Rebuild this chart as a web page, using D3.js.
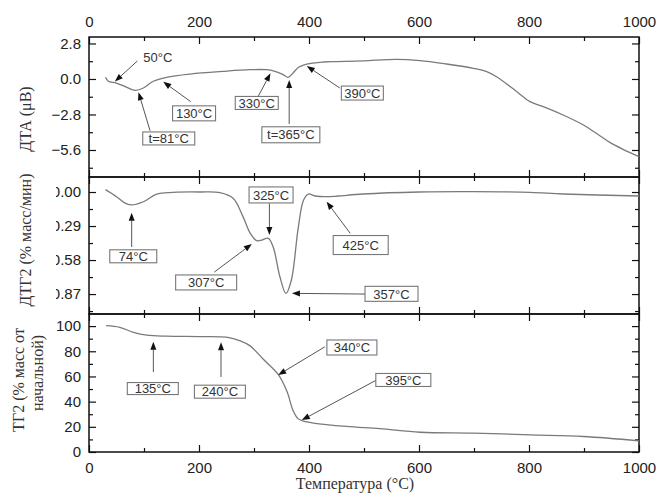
<!DOCTYPE html>
<html>
<head>
<meta charset="utf-8">
<script src="https://cdn.jsdelivr.net/npm/d3@7"></script>
<style>
  body { margin: 0; background: #fff; }
  .tick text { font-family: "Liberation Sans", Arial, sans-serif; font-size: 15px; fill: #222; }
  .tick line { stroke: #111; stroke-width: 1.2; }
  .note text { font-family: "Liberation Sans", Arial, sans-serif; font-size: 13px; fill: #333; }
  .ytitle, .xtitle { font-family: "Liberation Serif", "Times New Roman", serif; font-size: 16px; fill: #333; }
</style>
</head>
<body>
<div id="chart"></div>
<script>
// Data
var dtaTemp = [30, 35, 50, 68, 84, 99, 117, 141, 184, 244, 293, 323, 338, 353, 362, 371, 381, 396, 426, 450, 498, 559, 602, 650, 699, 723, 741, 778, 802, 826, 862, 899, 923, 947, 971, 1000];
var dtaVal  = [0.13, -0.18, -0.32, -0.65, -0.9, -0.71, -0.18, 0.13, 0.39, 0.6, 0.73, 0.73, 0.6, 0.34, 0.13, 0.47, 0.92, 1.18, 1.34, 1.37, 1.42, 1.55, 1.45, 1.18, 0.84, 0.58, 0.18, -1.0, -1.79, -2.18, -2.84, -3.63, -4.3, -5.0, -5.55, -6.13];

var dtgTemp = [30, 50, 64, 77, 99, 123, 153, 202, 238, 262, 280, 293, 305, 314, 326, 335, 347, 358, 368, 380, 390, 399, 411, 432, 453, 498, 600, 699, 802, 862, 1000];
var dtgVal  = [-0.02, 0.04, 0.09, 0.11, 0.083, 0.017, 0.003, 0.0, 0.006, 0.054, 0.21, 0.35, 0.415, 0.41, 0.395, 0.47, 0.72, 0.865, 0.75, 0.32, 0.07, 0.017, 0.034, 0.04, 0.034, 0.017, 0.0, -0.003, 0.003, 0.017, 0.034];

var tgTemp = [31, 56, 81, 105, 141, 200, 250, 275, 293, 317, 344, 360, 371, 380, 390, 408, 468, 529, 602, 699, 802, 899, 1000];
var tgVal  = [100.3, 99, 95, 92.8, 92, 91.7, 91.2, 88.3, 84.3, 73.6, 61.6, 48, 33, 26.5, 24.5, 23, 20.3, 18.5, 15.7, 15, 13.6, 12.3, 8.8];

var xTickLabels = [0, 200, 400, 600, 800, 1000];
var dtaTickLabels = [-5.6, -2.8, 0, 2.8];
var dtgTickLabels = [0, 0.29, 0.58, 0.87];
var tgTickLabels = [0, 20, 40, 60, 80, 100];

// annotations: label, arrow tail and arrow tip in data units [temp, value]
var dtaNotes = [
  { text: "50°C",    label: [125, 1.73],  tail: [88, 1.42],   tip: [47, -0.2], box: false },
  { text: "t=81°C",  label: [145, -4.69], tail: [111, -4.08], tip: [90, -1.05], w: 52, h: 13 },
  { text: "130°C",   label: [191, -2.71], tail: [185, -1.79], tip: [135, -0.22], w: 43, h: 15 },
  { text: "330°C",   label: [305, -1.89], tail: [308, -1.34], tip: [330, 0.45], w: 43, h: 13 },
  { text: "t=365°C", label: [367, -4.4],  tail: [364, -3.55], tip: [364, -0.08], w: 58, h: 16 },
  { text: "390°C",   label: [497, -1.11], tail: [456, -0.71], tip: [396, 1.02], w: 42, h: 14 }
];
var dtgNotes = [
  { text: "74°C",  label: [80.5, 0.548], tail: [77.6, 0.469], tip: [77.6, 0.176], w: 47, h: 13 },
  { text: "325°C", label: [331, 0.025],  tail: [328, 0.096],  tip: [328, 0.366], w: 44, h: 16 },
  { text: "307°C", label: [213, 0.771],  tail: [228, 0.682],  tip: [296, 0.443], w: 61, h: 15 },
  { text: "357°C", label: [550, 0.868],  tail: [502, 0.87],   tip: [369, 0.864], w: 53, h: 15 },
  { text: "425°C", label: [494, 0.452],  tail: [475, 0.352],  tip: [432, 0.083], w: 55, h: 19 }
];
var tgNotes = [
  { text: "135°C", label: [116, 50.4],   tail: [117, 63.5], tip: [117, 87.6], w: 51, h: 12 },
  { text: "240°C", label: [238, 47.9],   tail: [240, 59.6], tip: [240, 87.1], w: 51, h: 13 },
  { text: "340°C", label: [478, 83],     tail: [429, 83.6], tip: [344, 61.2], w: 50, h: 15 },
  { text: "395°C", label: [571.5, 57.2], tail: [523, 57.2], tip: [387, 25.4], w: 55, h: 13 }
];

var svgWidth = 660;
var svgHeight = 494;
var left = 89, right = 639;

var svg = d3.select("#chart")
  .append("svg")
  .attr("width", svgWidth)
  .attr("height", svgHeight);

// the ДТГ2 tick labels are cut on the left in the original
var defs = svg.append("defs");
defs.append("clipPath").attr("id", "dtgLabelClip")
  .append("rect").attr("x", -33).attr("y", -15).attr("width", 33).attr("height", 30);

var xScale = d3.scaleLinear().domain([0, 1000]).range([left, right]);

var panels = [
  { top: 37, bottom: 177, y: d3.scaleLinear().domain([-7.73, 3.31]).range([177, 37]),
    temp: dtaTemp, val: dtaVal, notes: dtaNotes,
    major: dtaTickLabels, minor: d3.range(-5, 3).map(d => d * 1.4), fmt: d3.format(".1f") },
  { top: 177, bottom: 314, y: d3.scaleLinear().domain([-0.128, 1.04]).range([177, 314]),
    temp: dtgTemp, val: dtgVal, notes: dtgNotes,
    major: dtgTickLabels, minor: d3.range(0, 8).map(d => d * 0.145), fmt: d3.format(".2f") },
  { top: 314, bottom: 452, y: d3.scaleLinear().domain([0, 109.6]).range([452, 314]),
    temp: tgTemp, val: tgVal, notes: tgNotes,
    major: tgTickLabels, minor: d3.range(0, 11).map(d => d * 10), fmt: d3.format("d") }
];

var xMinor = d3.range(0, 11).map(d => d * 100);

function arrow(g, x1, y1, x2, y2) {
  var a = Math.atan2(y2 - y1, x2 - x1), L = 8, W = 3;
  var bx = x2 - L * Math.cos(a), by = y2 - L * Math.sin(a);
  g.append("line")
    .attr("x1", x1).attr("y1", y1).attr("x2", bx).attr("y2", by)
    .attr("stroke", "#555").attr("stroke-width", 1);
  g.append("path")
    .attr("d", `M${x2},${y2}L${bx + W * Math.sin(a)},${by - W * Math.cos(a)}L${bx - W * Math.sin(a)},${by + W * Math.cos(a)}Z`)
    .attr("fill", "#111");
}

panels.forEach(function(p, i) {
  var g = svg.append("g");

  // x ticks on top and bottom borders, pointing inward
  var topAx = g.append("g").attr("transform", `translate(0, ${p.top})`)
    .call(d3.axisTop(xScale).tickValues(xMinor).tickSize(-7).tickPadding(10)
      .tickFormat(d => (i === 0 && d % 200 === 0) ? d : ""));
  topAx.selectAll(".tick line").attr("y2", d => d % 200 === 0 ? 7 : 4);
  var botAx = g.append("g").attr("transform", `translate(0, ${p.bottom})`)
    .call(d3.axisBottom(xScale).tickValues(xMinor).tickSize(-7).tickPadding(10)
      .tickFormat(d => (i === 2 && d % 200 === 0) ? d : ""));
  botAx.selectAll(".tick line").attr("y2", d => d % 200 === 0 ? -7 : -4);

  // y ticks left and right
  var isMajor = d => p.major.some(m => Math.abs(m - d) < 1e-6);
  var leftAx = g.append("g").attr("transform", `translate(${left}, 0)`)
    .call(d3.axisLeft(p.y).tickValues(p.minor).tickSize(-7).tickPadding(8)
      .tickFormat(d => isMajor(d) ? p.fmt(Math.abs(d) < 1e-9 ? 0 : d) : ""));
  leftAx.selectAll(".tick line").attr("x2", d => isMajor(d) ? 7 : 4);
  if (i === 1) leftAx.selectAll(".tick text").attr("clip-path", "url(#dtgLabelClip)");
  var rightAx = g.append("g").attr("transform", `translate(${right}, 0)`)
    .call(d3.axisRight(p.y).tickValues(p.minor).tickSize(-7).tickFormat(""));
  rightAx.selectAll(".tick line").attr("x2", d => isMajor(d) ? -7 : -4);
  g.selectAll(".domain").remove();

  // frame
  g.append("rect")
    .attr("x", left).attr("y", p.top)
    .attr("width", right - left).attr("height", p.bottom - p.top)
    .attr("fill", "none").attr("stroke", "#111").attr("stroke-width", 1.5);

  // curve
  var pts = p.temp.map((t, k) => [t, p.val[k]]);
  var line = d3.line()
    .x(d => xScale(d[0]))
    .y(d => p.y(d[1]))
    .curve(d3.curveCatmullRom.alpha(0.5));
  g.append("path")
    .datum(pts)
    .attr("d", line)
    .attr("fill", "none")
    .attr("stroke", "#7a7a7a")
    .attr("stroke-width", 1.3);

  // annotations
  p.notes.forEach(function(n) {
    var ng = g.append("g").attr("class", "note");
    arrow(ng, xScale(n.tail[0]), p.y(n.tail[1]), xScale(n.tip[0]), p.y(n.tip[1]));
    var lx = xScale(n.label[0]), ly = p.y(n.label[1]);
    if (n.box !== false) {
      ng.append("rect")
        .attr("x", lx - n.w / 2).attr("y", ly - n.h / 2)
        .attr("width", n.w).attr("height", n.h)
        .attr("fill", "#fff").attr("stroke", "#777").attr("stroke-width", 1.1);
    }
    ng.append("text")
      .attr("x", lx).attr("y", ly).attr("dy", "0.36em")
      .attr("text-anchor", "middle")
      .text(n.text);
  });
});

// axis titles
svg.append("text").attr("class", "ytitle")
  .attr("transform", "translate(25, 119) rotate(-90)")
  .attr("dy", "0.35em").attr("text-anchor", "middle")
  .text("ДТА (μВ)");
svg.append("text").attr("class", "ytitle")
  .attr("transform", "translate(25, 240) rotate(-90)")
  .attr("dy", "0.35em").attr("text-anchor", "middle")
  .text("ДТГ2 (% масс/мин)");
svg.append("text").attr("class", "ytitle")
  .attr("transform", "translate(18, 380) rotate(-90)")
  .attr("dy", "0.35em").attr("text-anchor", "middle")
  .text("ТГ2 (% масс от");
svg.append("text").attr("class", "ytitle")
  .attr("transform", "translate(37, 373) rotate(-90)")
  .attr("dy", "0.35em").attr("text-anchor", "middle")
  .text("начальной)");

svg.append("text").attr("class", "xtitle")
  .attr("x", 355).attr("y", 489)
  .attr("text-anchor", "middle")
  .text("Температура (°C)");
</script>
</body>
</html>
